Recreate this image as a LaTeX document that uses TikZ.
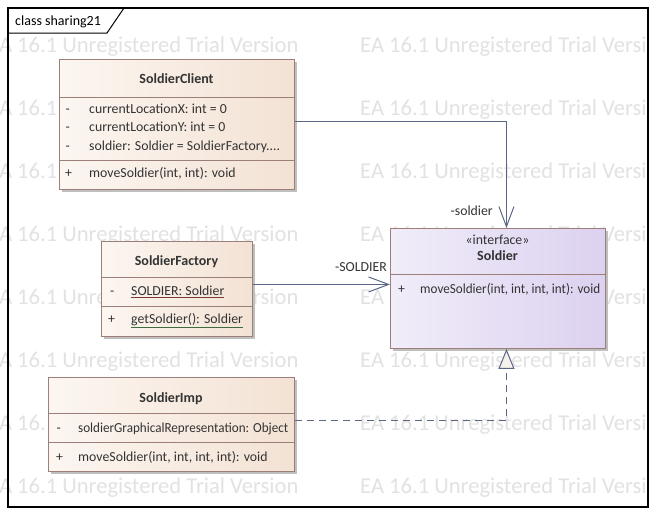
\documentclass[tikz,border=0pt]{standalone}
\usepackage{graphicx}
\usepackage{fontspec}
\setmainfont{Carlito}
\usetikzlibrary{arrows.meta,shadows}

\definecolor{wmark}{HTML}{E2E2E2}
\definecolor{edge}{HTML}{9C7F78}
\definecolor{classL}{HTML}{FCF6F1}
\definecolor{classR}{HTML}{F3E2D4}
\definecolor{ifL}{HTML}{F1EDF9}
\definecolor{ifR}{HTML}{DCD1F0}
\definecolor{wire}{HTML}{5B6687}
\definecolor{txt}{HTML}{333333}
\definecolor{ulred}{HTML}{7B3A30}
\definecolor{ulgreen}{HTML}{3D6B3D}
\definecolor{tri}{HTML}{F7F1EB}

\tikzset{
  classbox/.style={draw=edge, line width=0.9pt, left color=classL, right color=classR,
    anchor=north west, inner sep=0pt,
    drop shadow={shadow xshift=3pt, shadow yshift=-3pt, fill=black!25, opacity=1}},
  ifacebox/.style={classbox, left color=ifL, right color=ifR},
  divider/.style={draw=edge, line width=0.9pt},
  clsname/.style={anchor=base, font=\fontsize{14}{16}\selectfont\bfseries, text=txt, inner sep=0pt},
  stereo/.style={anchor=base, font=\fontsize{13.8}{16}\selectfont, text=txt, inner sep=0pt},
  member/.style={anchor=base west, font=\fontsize{13.8}{16}\selectfont, text=txt, inner sep=0pt},
  rolelabel/.style={anchor=base east, font=\fontsize{13.8}{16}\selectfont, text=txt, inner sep=0pt},
  assoc/.style={draw=wire, line width=1pt, -{Straight Barb[length=20pt,width=15pt]}},
  realize/.style={draw=wire, line width=1pt, dash pattern=on 7pt off 5pt,
    -{Triangle[length=20pt,width=16pt,fill=tri]}},
  wm/.style={anchor=base west, font=\fontsize{22.6}{25}\selectfont, text=wmark, inner sep=0pt},
}

\begin{document}
\begin{tikzpicture}[x=1pt, y=-1pt]
\useasboundingbox (0,0) rectangle (656,514);
\fill[white] (0,0) rectangle (656,514);

% tiled watermark text
\begin{scope}
  \clip (0,0) rectangle (648,514);
  \foreach \r in {0,...,7} {
    \pgfmathsetmacro\by{52+63*\r}
    \node[wm] (wma\r) at (-12,\by) {EA 16.1 Unregistered Trial Version};
    \node[wm] (wmb\r) at (360,\by) {EA 16.1 Unregistered Trial Version};
  }
\end{scope}

% diagram frame with its name tab
\draw[line width=1.3pt] (8,8) rectangle (648,507);
\draw[line width=1pt] (8,33) -- (107,33) -- (124,8);
\node[anchor=base west, font=\fontsize{14}{16}\selectfont, inner sep=0pt] (frametitle) at (15,25) {class sharing21};

% SoldierClient
\node[classbox, minimum width=235pt, minimum height=130pt] (client) at (59,59) {};
\draw[divider] (59,97) -- (294,97);
\draw[divider] (59,160) -- (294,160);
\node[clsname] (clientname) at (176.5,83.5) {SoldierClient};
\node[member] (cv1) at (65.5,113) {-};
\node[member] (ca1) at (89,113) {currentLocationX: int = 0};
\node[member] (cv2) at (65.5,131.5) {-};
\node[member] (ca2) at (89,131.5) {currentLocationY: int = 0};
\node[member] (cv3) at (65.5,150) {-};
\node[member] (ca3) at (89,150) {soldier: Soldier = SoldierFactory....};
\node[member] (cv4) at (65,177.5) {+};
\node[member] (co1) at (89,177.5) {moveSoldier(int, int): void};

% Soldier interface
\node[ifacebox, minimum width=215pt, minimum height=120pt] (soldier) at (390,228) {};
\draw[divider] (390,274) -- (605,274);
\node[stereo] (soldierstereo) at (497.5,244.5) {«interface»};
\node[clsname] (soldiername) at (497.5,260.5) {Soldier};
\node[member] (sv1) at (398,293.5) {+};
\node[member] (so1) at (420,293.5) {\scalebox{0.95}[1]{moveSoldier(int, int, int, int): void}};

% SoldierFactory
\node[classbox, minimum width=151pt, minimum height=95pt] (factory) at (101,241) {};
\draw[divider] (101,277) -- (252,277);
\draw[divider] (101,306) -- (252,306);
\node[clsname] (factoryname) at (176.5,265.5) {SoldierFactory};
\node[member] (fv1) at (110,295.5) {-};
\node[member] (fa1) at (131,295.5) {{\color{ulred}\underline{\textcolor{txt}{SOLDIER: Soldier}}}};
\node[member] (fv2) at (108,323.5) {+};
\node[member] (fo1) at (131,323.5) {{\color{ulgreen}\underline{\textcolor{txt}{getSoldier(): Soldier}}}};

% SoldierImp
\node[classbox, minimum width=246pt, minimum height=94pt] (imp) at (48,377) {};
\draw[divider] (48,413) -- (294,413);
\draw[divider] (48,442) -- (294,442);
\node[clsname] (impname) at (171,402.5) {SoldierImp};
\node[member] (iv1) at (56.5,432.5) {-};
\node[member] (ia1) at (78,432.5) {\scalebox{0.95}[1]{soldierGraphicalRepresentation: Object}};
\node[member] (iv2) at (56,461.5) {+};
\node[member] (io1) at (78,461.5) {moveSoldier(int, int, int, int): void};

% relationships
\draw[assoc] ([yshift=3pt]client.east) -| ([xshift=8.5pt]soldier.north);
\node[rolelabel] (rsoldier) at (493,215.5) {-soldier};

\coordinate (fstart) at ([yshift=4.5pt]factory.east);
\draw[assoc] (fstart) -- (fstart -| soldier.west);
\node[rolelabel] (rsoldiercap) at (387,271.5) {-SOLDIER};

\coordinate (istart) at ([yshift=4pt]imp.east);
\draw[realize] (istart) -| ([xshift=8.5pt]soldier.south);
\end{tikzpicture}
\end{document}
